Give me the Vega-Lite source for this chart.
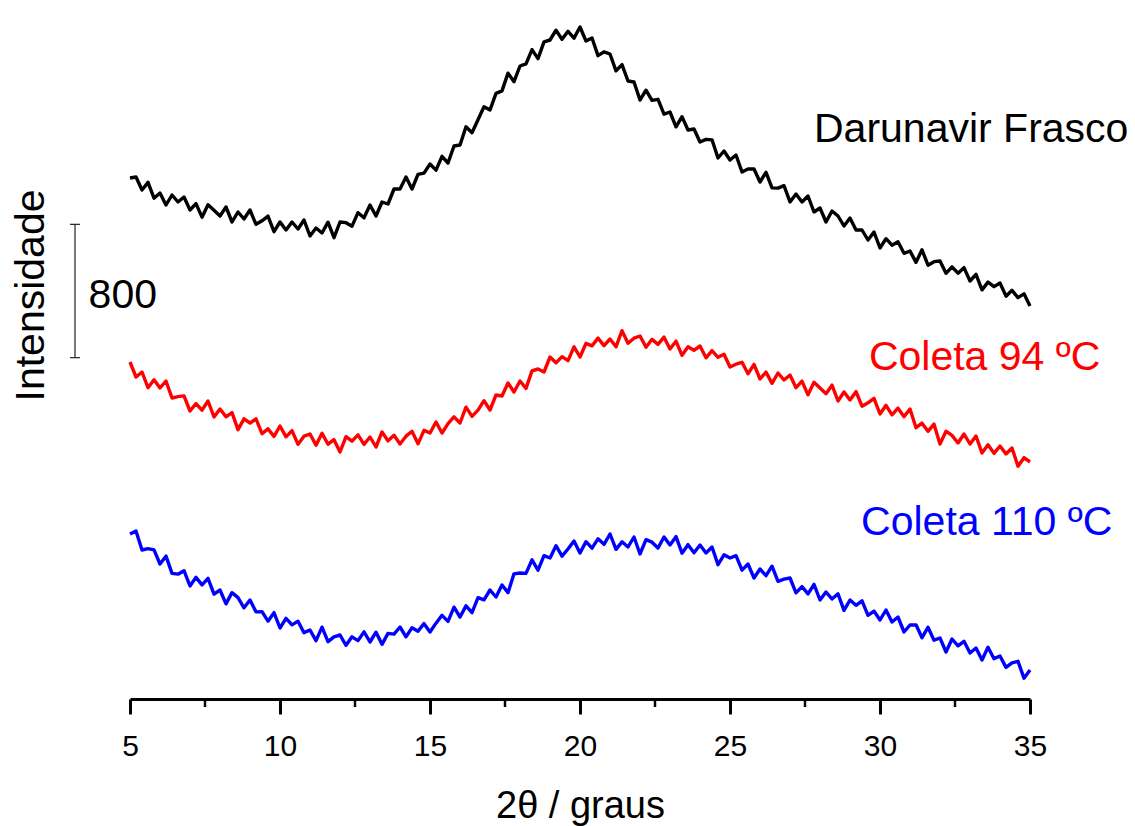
{
"$schema": "https://vega.github.io/schema/vega-lite/v6.json",
"width": 900, "height": 699,
"autosize": {"type": "none"},
"padding": {"left": 130, "top": 0, "right": 105, "bottom": 127},
"background": "white",
"config": {"view": {"stroke": null}, "font": "Liberation Sans"},
"datasets": {
"xrd": [
{"t":5.0,"frasco":3126,"c94":2022,"c110":990},{"t":5.2,"frasco":3132,"c94":1932,"c110":1008},{"t":5.4,"frasco":3054,"c94":1962,"c110":894},{"t":5.6,"frasco":3100,"c94":1868,"c110":902},{"t":5.8,"frasco":3005,"c94":1915,"c110":895},
{"t":6.0,"frasco":3036,"c94":1866,"c110":810},{"t":6.2,"frasco":2964,"c94":1908,"c110":857},{"t":6.4,"frasco":3024,"c94":1806,"c110":754},{"t":6.6,"frasco":2982,"c94":1814,"c110":749},{"t":6.8,"frasco":3012,"c94":1819,"c110":770},
{"t":7.0,"frasco":2934,"c94":1728,"c110":678},{"t":7.2,"frasco":2972,"c94":1772,"c110":730},{"t":7.4,"frasco":2891,"c94":1733,"c110":685},{"t":7.6,"frasco":2965,"c94":1788,"c110":724},{"t":7.8,"frasco":2932,"c94":1692,"c110":629},
{"t":8.0,"frasco":2898,"c94":1740,"c110":654},{"t":8.2,"frasco":2952,"c94":1693,"c110":571},{"t":8.4,"frasco":2862,"c94":1718,"c110":638},{"t":8.6,"frasco":2922,"c94":1616,"c110":608},{"t":8.8,"frasco":2880,"c94":1681,"c110":547},
{"t":9.0,"frasco":2934,"c94":1656,"c110":594},{"t":9.2,"frasco":2848,"c94":1681,"c110":523},{"t":9.4,"frasco":2869,"c94":1592,"c110":524},{"t":9.6,"frasco":2897,"c94":1621,"c110":467},{"t":9.8,"frasco":2804,"c94":1576,"c110":518},
{"t":10.0,"frasco":2862,"c94":1638,"c110":426},{"t":10.2,"frasco":2814,"c94":1573,"c110":484},{"t":10.4,"frasco":2862,"c94":1610,"c110":445},{"t":10.6,"frasco":2820,"c94":1528,"c110":467},{"t":10.8,"frasco":2874,"c94":1577,"c110":398},
{"t":11.0,"frasco":2778,"c94":1590,"c110":414},{"t":11.2,"frasco":2826,"c94":1523,"c110":350},{"t":11.4,"frasco":2796,"c94":1594,"c110":431},{"t":11.6,"frasco":2861,"c94":1529,"c110":344},{"t":11.8,"frasco":2768,"c94":1556,"c110":373},
{"t":12.0,"frasco":2862,"c94":1482,"c110":384},{"t":12.2,"frasco":2858,"c94":1574,"c110":322},{"t":12.4,"frasco":2837,"c94":1547,"c110":373},{"t":12.6,"frasco":2918,"c94":1585,"c110":350},{"t":12.8,"frasco":2887,"c94":1528,"c110":403},
{"t":13.0,"frasco":2964,"c94":1572,"c110":342},{"t":13.2,"frasco":2898,"c94":1512,"c110":401},{"t":13.4,"frasco":2982,"c94":1602,"c110":328},{"t":13.6,"frasco":2970,"c94":1549,"c110":394},{"t":13.8,"frasco":3060,"c94":1582,"c110":389},
{"t":14.0,"frasco":3060,"c94":1530,"c110":432},{"t":14.2,"frasco":3132,"c94":1577,"c110":373},{"t":14.4,"frasco":3060,"c94":1606,"c110":428},{"t":14.6,"frasco":3148,"c94":1531,"c110":407},{"t":14.8,"frasco":3155,"c94":1612,"c110":452},
{"t":15.0,"frasco":3210,"c94":1596,"c110":402},{"t":15.2,"frasco":3173,"c94":1662,"c110":455},{"t":15.4,"frasco":3256,"c94":1596,"c110":502},{"t":15.6,"frasco":3216,"c94":1652,"c110":466},{"t":15.8,"frasco":3318,"c94":1693,"c110":551},
{"t":16.0,"frasco":3324,"c94":1656,"c110":492},{"t":16.2,"frasco":3433,"c94":1751,"c110":559},{"t":16.4,"frasco":3398,"c94":1696,"c110":518},{"t":16.6,"frasco":3476,"c94":1733,"c110":608},{"t":16.8,"frasco":3553,"c94":1790,"c110":595},
{"t":17.0,"frasco":3534,"c94":1734,"c110":654},{"t":17.2,"frasco":3634,"c94":1824,"c110":612},{"t":17.4,"frasco":3649,"c94":1818,"c110":684},{"t":17.6,"frasco":3755,"c94":1896,"c110":638},{"t":17.8,"frasco":3704,"c94":1842,"c110":751},
{"t":18.0,"frasco":3798,"c94":1908,"c110":756},{"t":18.2,"frasco":3811,"c94":1864,"c110":754},{"t":18.4,"frasco":3896,"c94":1969,"c110":835},{"t":18.6,"frasco":3842,"c94":1980,"c110":773},{"t":18.8,"frasco":3943,"c94":1962,"c110":860},
{"t":19.0,"frasco":3954,"c94":2052,"c110":846},{"t":19.2,"frasco":4013,"c94":2017,"c110":920},{"t":19.4,"frasco":3958,"c94":2054,"c110":857},{"t":19.6,"frasco":4006,"c94":2030,"c110":900},{"t":19.8,"frasco":3965,"c94":2113,"c110":948},
{"t":20.0,"frasco":4032,"c94":2052,"c110":876},{"t":20.2,"frasco":3948,"c94":2134,"c110":944},{"t":20.4,"frasco":3966,"c94":2119,"c110":905},{"t":20.6,"frasco":3860,"c94":2165,"c110":961},{"t":20.8,"frasco":3883,"c94":2120,"c110":928},
{"t":21.0,"frasco":3870,"c94":2160,"c110":990},{"t":21.2,"frasco":3769,"c94":2113,"c110":898},{"t":21.4,"frasco":3806,"c94":2210,"c110":943},{"t":21.6,"frasco":3708,"c94":2134,"c110":912},{"t":21.8,"frasco":3702,"c94":2165,"c110":972},
{"t":22.0,"frasco":3594,"c94":2178,"c110":870},{"t":22.2,"frasco":3653,"c94":2111,"c110":956},{"t":22.4,"frasco":3592,"c94":2158,"c110":941},{"t":22.6,"frasco":3598,"c94":2128,"c110":906},{"t":22.8,"frasco":3509,"c94":2171,"c110":972},
{"t":23.0,"frasco":3522,"c94":2100,"c110":924},{"t":23.2,"frasco":3433,"c94":2147,"c110":974},{"t":23.4,"frasco":3494,"c94":2062,"c110":875},{"t":23.6,"frasco":3414,"c94":2113,"c110":926},{"t":23.8,"frasco":3420,"c94":2092,"c110":877},
{"t":24.0,"frasco":3342,"c94":2118,"c110":924},{"t":24.2,"frasco":3358,"c94":2047,"c110":876},{"t":24.4,"frasco":3355,"c94":2090,"c110":912},{"t":24.6,"frasco":3246,"c94":2050,"c110":806},{"t":24.8,"frasco":3288,"c94":2069,"c110":865},
{"t":25.0,"frasco":3234,"c94":1992,"c110":846},{"t":25.2,"frasco":3264,"c94":2009,"c110":860},{"t":25.4,"frasco":3162,"c94":2020,"c110":773},{"t":25.6,"frasco":3180,"c94":1951,"c110":810},{"t":25.8,"frasco":3180,"c94":2008,"c110":726},
{"t":26.0,"frasco":3102,"c94":1920,"c110":780},{"t":26.2,"frasco":3160,"c94":1961,"c110":740},{"t":26.4,"frasco":3067,"c94":1894,"c110":797},{"t":26.6,"frasco":3065,"c94":1956,"c110":706},{"t":26.8,"frasco":3080,"c94":1914,"c110":719},
{"t":27.0,"frasco":2982,"c94":1944,"c110":726},{"t":27.2,"frasco":3030,"c94":1868,"c110":637},{"t":27.4,"frasco":2982,"c94":1907,"c110":674},{"t":27.6,"frasco":3018,"c94":1825,"c110":631},{"t":27.8,"frasco":2922,"c94":1900,"c110":688},
{"t":28.0,"frasco":2946,"c94":1866,"c110":594},{"t":28.2,"frasco":2862,"c94":1832,"c110":642},{"t":28.4,"frasco":2928,"c94":1883,"c110":600},{"t":28.6,"frasco":2898,"c94":1788,"c110":631},{"t":28.8,"frasco":2838,"c94":1842,"c110":532},
{"t":29.0,"frasco":2886,"c94":1794,"c110":594},{"t":29.2,"frasco":2814,"c94":1844,"c110":562},{"t":29.4,"frasco":2814,"c94":1757,"c110":589},{"t":29.6,"frasco":2754,"c94":1777,"c110":502},{"t":29.8,"frasco":2802,"c94":1804,"c110":527},
{"t":30.0,"frasco":2706,"c94":1710,"c110":474},{"t":30.2,"frasco":2762,"c94":1762,"c110":534},{"t":30.4,"frasco":2723,"c94":1705,"c110":462},{"t":30.6,"frasco":2743,"c94":1745,"c110":492},{"t":30.8,"frasco":2674,"c94":1694,"c110":402},
{"t":31.0,"frasco":2688,"c94":1740,"c110":444},{"t":31.2,"frasco":2620,"c94":1628,"c110":445},{"t":31.4,"frasco":2695,"c94":1655,"c110":368},{"t":31.6,"frasco":2603,"c94":1606,"c110":430},{"t":31.8,"frasco":2624,"c94":1649,"c110":353},
{"t":32.0,"frasco":2628,"c94":1530,"c110":366},{"t":32.2,"frasco":2554,"c94":1607,"c110":282},{"t":32.4,"frasco":2593,"c94":1582,"c110":360},{"t":32.6,"frasco":2555,"c94":1536,"c110":319},{"t":32.8,"frasco":2588,"c94":1590,"c110":346},
{"t":33.0,"frasco":2508,"c94":1530,"c110":276},{"t":33.2,"frasco":2548,"c94":1578,"c110":306},{"t":33.4,"frasco":2455,"c94":1476,"c110":234},{"t":33.6,"frasco":2501,"c94":1525,"c110":311},{"t":33.8,"frasco":2474,"c94":1474,"c110":242},
{"t":34.0,"frasco":2496,"c94":1518,"c110":258},{"t":34.2,"frasco":2417,"c94":1470,"c110":190},{"t":34.4,"frasco":2452,"c94":1506,"c110":217},{"t":34.6,"frasco":2408,"c94":1397,"c110":226},{"t":34.8,"frasco":2431,"c94":1448,"c110":125},
{"t":35.0,"frasco":2358,"c94":1422,"c110":174}
],
"rotulos": [
{"t":27.8,"I":3342,"serie":"frasco","rotulo":"Darunavir Frasco"},
{"t":29.63,"I":1974,"serie":"c94","rotulo":"Coleta 94 ºC"},
{"t":29.37,"I":984,"serie":"c110","rotulo":"Coleta 110 ºC"},
{"t":3.62,"I":2346,"serie":"escala","rotulo":"800"}
],
"escala": [
{"t":3.167,"t2":3.167,"I":2048,"I2":2848},
{"t":3.0,"t2":3.333,"I":2048,"I2":2048},
{"t":3.0,"t2":3.333,"I":2848,"I2":2848}
],
"menores": [
{"t":7.5,"I":0,"I2":-48},{"t":12.5,"I":0,"I2":-48},{"t":17.5,"I":0,"I2":-48},{"t":22.5,"I":0,"I2":-48},{"t":27.5,"I":0,"I2":-48},{"t":32.5,"I":0,"I2":-48}
]
},
"encoding": {
"x": {"field": "t", "type": "quantitative",
 "scale": {"domain": [5, 35], "nice": false, "zero": false},
 "axis": {"values": [5,10,15,20,25,30,35], "format": "d", "title": "2θ / graus", "grid": false,
  "domainColor": "black", "domainWidth": 3, "tickColor": "black", "tickWidth": 3, "tickSize": 15,
  "labelFontSize": 30, "labelColor": "black", "labelFlush": false, "labelBaseline": "alphabetic", "labelPadding": 41, "labelFont": "Liberation Sans",
  "titleFont": "Liberation Sans", "titleFontSize": 38, "titleFontWeight": "normal", "titleColor": "black", "titleY": 118, "titleBaseline": "alphabetic"}},
"y": {"field": "I", "type": "quantitative",
 "scale": {"domain": [0, 4194], "nice": false, "zero": false},
 "axis": {"title": "Intensidade", "domain": false, "ticks": false, "labels": false, "grid": false,
  "titleFont": "Liberation Sans", "titleFontSize": 41, "titleFontWeight": "normal", "titleColor": "black",
  "titleX": -87, "titleY": 295, "titleAngle": 270, "titleBaseline": "alphabetic", "titleAlign": "center"}}
},
"layer": [
{"data": {"name": "xrd"},
 "transform": [{"fold": ["frasco", "c94", "c110"], "as": ["serie", "I"]}],
 "mark": {"type": "line", "strokeWidth": 3.4, "strokeJoin": "round"},
 "encoding": {
  "color": {"field": "serie", "type": "nominal", "scale": {"domain": ["frasco","c94","c110","escala"], "range": ["#000000","#ff0000","#0000ff","#000000"]}, "legend": null}}},
{"data": {"name": "escala"},
 "mark": {"type": "rule", "color": "#222222", "strokeWidth": 1.2},
 "encoding": {"x2": {"field": "t2"}, "y2": {"field": "I2"}}},
{"data": {"name": "menores"},
 "mark": {"type": "rule", "color": "black", "strokeWidth": 2.5},
 "encoding": {"y2": {"field": "I2"}}},
{"data": {"name": "rotulos"},
 "mark": {"type": "text", "align": "left", "baseline": "alphabetic", "fontSize": 41, "font": "Liberation Sans"},
 "encoding": {
  "text": {"field": "rotulo"},
  "color": {"field": "serie", "type": "nominal", "scale": {"domain": ["frasco","c94","c110","escala"], "range": ["#000000","#ff0000","#0000ff","#000000"]}, "legend": null}}}
]
}
